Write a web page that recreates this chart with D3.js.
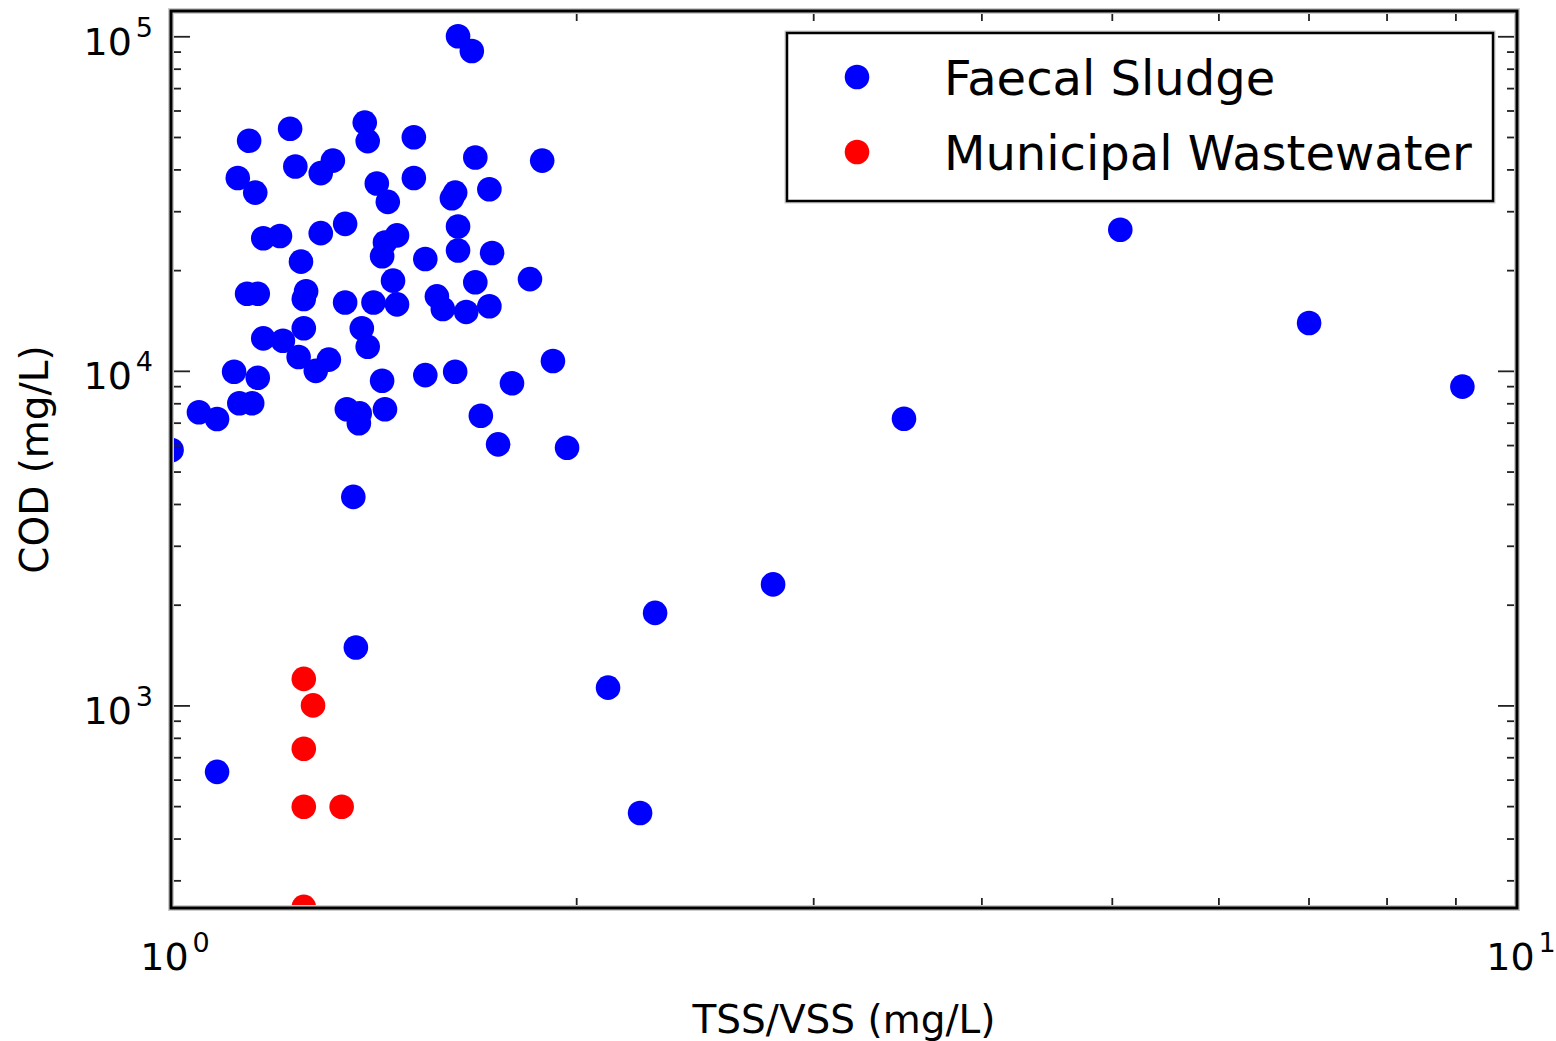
<!DOCTYPE html>
<html>
<head>
<meta charset="utf-8">
<script src="https://cdn.jsdelivr.net/npm/d3@7"></script>
<style>
  html, body { margin: 0; padding: 0; background: #fff; }
  svg { display: block; }
  text { font-family: "DejaVu Sans", sans-serif; fill: #000; }
</style>
</head>
<body>
<svg id="chart" width="1556" height="1041"></svg>
<script>
// ---------------- data ----------------
const seriesNames = ["Faecal Sludge", "Municipal Wastewater"];
const seriesColors = ["#0000ff", "#ff0000"];

// Faecal Sludge: TSS/VSS ratio, COD (mg/L)
const faecalTSSVSS = [
  1.143, 1.226, 1.393, 1.400, 1.515, 1.683, 1.887, 1.121, 1.155, 1.237,
  1.292, 1.319, 1.422, 1.449, 1.515, 1.617, 1.626, 1.724, 1.634, 1.634,
  1.732, 1.171, 1.205, 1.292, 1.347, 1.249, 1.435, 1.442, 1.472, 1.545,
  1.462, 1.683, 1.848, 1.139, 1.160, 1.260, 1.255, 1.347, 1.414, 1.472,
  1.576, 1.592, 1.657, 1.724, 1.171, 1.211, 1.255, 1.244, 1.281, 1.310,
  1.386, 1.400, 1.114, 1.160, 1.435, 1.545, 1.626, 1.922, 1.792, 1.049,
  1.082, 1.124, 1.149, 1.351, 1.381, 1.379, 1.442, 1.699, 1.001, 1.750,
  1.969, 1.366, 1.372, 1.082, 2.112, 2.289, 2.801, 2.231, 3.504, 5.073,
  7.007, 9.108, 1.634, 1.673
];
const faecalCOD = [
  48700, 52900, 55200, 48600, 49900, 43400, 42500, 37700, 34100, 40800,
  39000, 42500, 36300, 32000, 37700, 32800, 34100, 34900, 27000, 22900,
  22500, 24900, 25300, 25800, 27500, 21200, 22000, 24200, 25400, 21600,
  18600, 18400, 18800, 17000, 17000, 17300, 16400, 16000, 16000, 15800,
  16700, 15300, 15000, 15600, 12500, 12300, 13400, 11000, 10000, 10800,
  13400, 11800, 9940, 9540, 9340, 9710, 9940, 10700, 9180, 7520,
  7180, 8000, 8000, 7680, 7460, 6970, 7680, 7340, 5800, 6030,
  5890, 4200, 1490, 633, 1130, 1890, 2300, 477, 7190, 26400,
  13900, 8970, 100000, 90400
];

// Municipal Wastewater
const municipalTSSVSS = [1.255, 1.275, 1.255, 1.255, 1.339, 1.255];
const municipalCOD = [1200, 1000, 742, 498, 498, 250];

// axes
const xDomain = [1, 10];
const yDomain = [248, 119000];
const xMajorTicks = [1, 10];
const xTickExponents = ["0", "1"];
const yMajorTicks = [1000, 10000, 100000];
const yTickExponents = ["3", "4", "5"];
const xLabel = "TSS/VSS (mg/L)";
const yLabel = "COD (mg/L)";

// ---------------- layout ----------------
const L = 171, R = 1517, T = 11, B = 908;
const svg = d3.select("#chart");

const x = d3.scaleLog().domain(xDomain).range([L, R]);
const y = d3.scaleLog().domain(yDomain).range([B, T]);

function minorTicks(domain) {
  const out = [];
  const lo = Math.floor(Math.log10(domain[0])), hi = Math.ceil(Math.log10(domain[1]));
  for (let e = lo; e <= hi; e++) {
    for (let k = 2; k <= 9; k++) {
      const v = k * Math.pow(10, e);
      if (v >= domain[0] && v <= domain[1]) out.push(v);
    }
  }
  return out;
}
const xMinor = minorTicks(xDomain);
const yMinor = minorTicks(yDomain);

// clip
svg.append("defs").append("clipPath").attr("id", "plotclip")
  .append("rect").attr("x", L).attr("y", T).attr("width", R - L).attr("height", B - T);

// points
const plot = svg.append("g").attr("clip-path", "url(#plotclip)");
const faecal = faecalTSSVSS.map((v, i) => ({ x: v, y: faecalCOD[i] }));
const municipal = municipalTSSVSS.map((v, i) => ({ x: v, y: municipalCOD[i] }));

plot.selectAll("circle.fs").data(faecal).enter().append("circle")
  .attr("class", "fs")
  .attr("cx", d => x(d.x)).attr("cy", d => y(d.y)).attr("r", 12.3)
  .attr("fill", seriesColors[0]);
plot.selectAll("circle.mw").data(municipal).enter().append("circle")
  .attr("class", "mw")
  .attr("cx", d => x(d.x)).attr("cy", d => y(d.y)).attr("r", 12.3)
  .attr("fill", seriesColors[1]);

// ticks (inward, all four sides)
function drawTicks(axisGen, transform, values, size) {
  const g = svg.append("g").attr("transform", transform)
    .call(axisGen.tickValues(values).tickSize(-size).tickFormat(""));
  g.select(".domain").remove();
  g.selectAll(".tick line").attr("stroke", "#222").attr("stroke-width", 1.8);
  return g;
}
const majorLen = 19, minorLen = 10;
drawTicks(d3.axisBottom(x), `translate(0,${B})`, xMajorTicks, majorLen);
drawTicks(d3.axisBottom(x), `translate(0,${B})`, xMinor, minorLen);
drawTicks(d3.axisTop(x), `translate(0,${T})`, xMajorTicks, majorLen);
drawTicks(d3.axisTop(x), `translate(0,${T})`, xMinor, minorLen);
drawTicks(d3.axisLeft(y), `translate(${L},0)`, yMajorTicks, majorLen);
drawTicks(d3.axisLeft(y), `translate(${L},0)`, yMinor, minorLen);
drawTicks(d3.axisRight(y), `translate(${R},0)`, yMajorTicks, majorLen);
drawTicks(d3.axisRight(y), `translate(${R},0)`, yMinor, minorLen);

// frame
svg.append("rect").attr("x", L).attr("y", T).attr("width", R - L).attr("height", B - T)
  .attr("fill", "none").attr("stroke", "#cccccc").attr("stroke-width", 6);
svg.append("rect").attr("x", L).attr("y", T).attr("width", R - L).attr("height", B - T)
  .attr("fill", "none").attr("stroke", "#000").attr("stroke-width", 3);

// tick labels (10^n)
const tickFont = 38, supFont = 27;
xMajorTicks.forEach((v, i) => {
  const t = svg.append("text")
    .attr("x", x(v) + 4).attr("y", 970)
    .attr("text-anchor", "middle")
    .style("font-size", tickFont + "px");
  t.append("tspan").text("10");
  t.append("tspan").attr("dx", 4).attr("dy", -18).style("font-size", supFont + "px").text(xTickExponents[i]);
});
yMajorTicks.forEach((v, i) => {
  const t = svg.append("text")
    .attr("x", 153).attr("y", y(v) + 18.5)
    .attr("text-anchor", "end")
    .style("font-size", tickFont + "px");
  t.append("tspan").text("10");
  t.append("tspan").attr("dx", 4).attr("dy", -18).style("font-size", supFont + "px").text(yTickExponents[i]);
});

// axis labels
svg.append("text").attr("x", (L + R) / 2).attr("y", 1033)
  .attr("text-anchor", "middle").style("font-size", "39px").text(xLabel);
svg.append("text").attr("transform", `translate(48,${(T + B) / 2}) rotate(-90)`)
  .attr("text-anchor", "middle").style("font-size", "39px").text(yLabel);

// legend
const lg = svg.append("g");
lg.append("rect").attr("x", 787).attr("y", 33).attr("width", 706).attr("height", 168)
  .attr("fill", "#fff").attr("stroke", "#cccccc").attr("stroke-width", 5);
lg.append("rect").attr("x", 787).attr("y", 33).attr("width", 706).attr("height", 168)
  .attr("fill", "#fff").attr("stroke", "#000").attr("stroke-width", 2.5);
const legendRows = [77, 152];
seriesNames.forEach((name, i) => {
  lg.append("circle").attr("cx", 857).attr("cy", legendRows[i]).attr("r", 12.3)
    .attr("fill", seriesColors[i]);
  lg.append("text").attr("x", 944).attr("y", legendRows[i] + 18)
    .style("font-size", "48px").text(name);
});
</script>
</body>
</html>
